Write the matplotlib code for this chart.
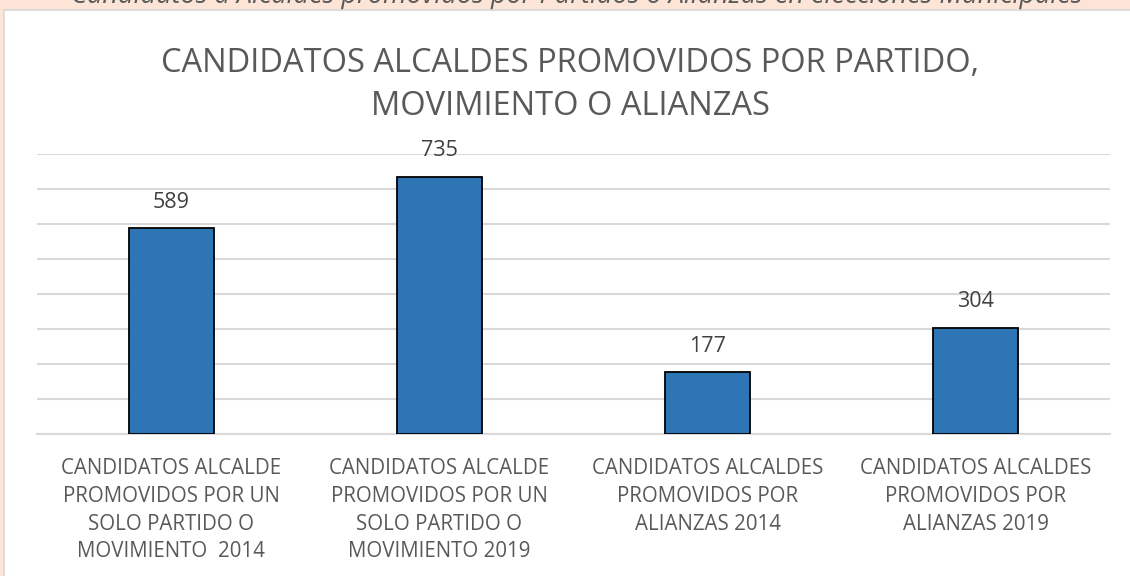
import matplotlib
matplotlib.use("Agg")
import matplotlib.pyplot as plt
from matplotlib.patches import Rectangle

categories = [
    "CANDIDATOS ALCALDE\nPROMOVIDOS POR UN\nSOLO PARTIDO O\nMOVIMIENTO  2014",
    "CANDIDATOS ALCALDE\nPROMOVIDOS POR UN\nSOLO PARTIDO O\nMOVIMIENTO 2019",
    "CANDIDATOS ALCALDES\nPROMOVIDOS POR\nALIANZAS 2014",
    "CANDIDATOS ALCALDES\nPROMOVIDOS POR\nALIANZAS 2019",
]
values = [589, 735, 177, 304]
title = "CANDIDATOS ALCALDES PROMOVIDOS POR PARTIDO,\nMOVIMIENTO O ALIANZAS"
caption = "Candidatos a Alcaldes promovidos por Partidos o Alianzas en elecciones Municipales"

plt.rcParams['font.family'] = ['Open Sans', 'DejaVu Sans']

W, H = 1130, 576
fig = plt.figure(figsize=(W / 100, H / 100), dpi=100)
fig.patch.set_facecolor('#FCE4D6')

# white chart panel
fig.patches.append(Rectangle((4 / W, -0.1), 1.2, 1.1 - 10 / H, transform=fig.transFigure,
                             facecolor='white', edgecolor='#D9D9D9', linewidth=1.2, zorder=-10))

# cut-off caption at top
fig.text(0.51, 1 + 4 / H, caption, ha='center', va='center', fontsize=19.5,
         style='italic', color='#595959', zorder=-20)

ax = fig.add_axes([37 / W, 1 - 434 / H, (1110 - 37) / W, (434 - 154) / H])
ax.set_facecolor('none')
x = range(len(values))
bars = ax.bar(x, values, width=0.317, color='#2E75B6', edgecolor='black', linewidth=1.3, zorder=3)
ax.set_xlim(-0.5, len(values) - 0.5)
ax.set_ylim(0, 800)
ax.set_yticks(range(0, 801, 100))
ax.yaxis.grid(True, color='#D9D9D9', linewidth=1.5, zorder=0)
ax.set_axisbelow(True)
ax.tick_params(axis='y', left=False, labelleft=False)
ax.tick_params(axis='x', bottom=False, pad=14)
for s in ['top', 'right', 'left']:
    ax.spines[s].set_visible(False)
ax.spines['bottom'].set_color('#D9D9D9')
ax.spines['bottom'].set_linewidth(1.5)
ax.set_xticks(list(x))
ax.set_xticklabels(categories, fontsize=14.8, color='#595959', linespacing=1.42)

for b, v in zip(bars, values):
    ax.annotate(str(v), (b.get_x() + b.get_width() / 2, v), xytext=(0, 11),
                textcoords='offset points', ha='center', va='bottom',
                fontsize=15.5, color='#404040')

fig.text(570 / W, 1 - 85 / H, title, ha='center', va='center', fontsize=23.5,
         color='#595959', linespacing=1.4)

fig.savefig('out.png', dpi=100, facecolor=fig.get_facecolor())
